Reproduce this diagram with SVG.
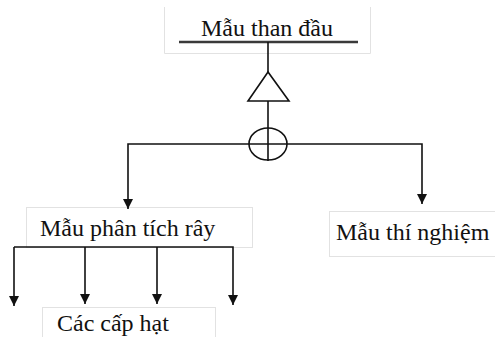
<svg xmlns="http://www.w3.org/2000/svg" width="495" height="337" viewBox="0 0 495 337">
  <style>
    .frame { fill: #ffffff; stroke: #e2e2e2; stroke-width: 1; }
    .label { font-family: "Liberation Serif", "Times New Roman", serif; font-size: 24px; fill: #111111; }
    .wire { fill: none; stroke: #111111; stroke-width: 1.6; }
    .bar { fill: none; stroke: #3a3a3a; stroke-width: 2.5; }
  </style>
  <defs>
    <marker id="arrow" viewBox="0 0 10 10" refX="10" refY="5" markerWidth="10" markerHeight="10" markerUnits="userSpaceOnUse" orient="auto">
      <path d="M0,0 L10,5 L0,10 Z" fill="#111111"/>
    </marker>
  </defs>

  <rect width="495" height="337" fill="#ffffff"/>

  <!-- source sample -->
  <g id="node-source">
    <path class="frame" d="M164.5,7 V53.5 H370.5 V7"/>
    <text class="label" x="201" y="36">Mẫu than đầu</text>
    <line class="bar" x1="179" y1="42" x2="358" y2="42"/>
  </g>

  <!-- reduction (triangle) symbol -->
  <g id="node-reduce">
    <polygon points="268,72 248,101 289,101" fill="none" stroke="#111111" stroke-width="1.6"/>
  </g>

  <!-- splitting (crossed circle) symbol -->
  <g id="node-split">
    <ellipse cx="268" cy="144" rx="19" ry="16" fill="none" stroke="#111111" stroke-width="1.6"/>
    <line class="wire" x1="268" y1="128" x2="268" y2="161"/>
    <line class="wire" x1="249" y1="144" x2="287" y2="144"/>
  </g>

  <!-- sieve analysis sample -->
  <g id="node-sieve">
    <rect class="frame" x="26.5" y="207.5" width="226" height="40"/>
    <text class="label" x="40" y="236">Mẫu phân tích rây</text>
  </g>

  <!-- test sample -->
  <g id="node-test">
    <rect class="frame" x="329.5" y="211.5" width="170" height="45"/>
    <text class="label" x="336" y="240">Mẫu thí nghiệm</text>
  </g>

  <!-- particle size classes -->
  <g id="node-classes">
    <rect class="frame" x="42.5" y="307.5" width="173" height="40"/>
    <text class="label" x="57" y="331">Các cấp hạt</text>
  </g>

  <g id="connectors">
    <line class="wire" x1="268" y1="42" x2="268" y2="72"/>
    <line class="wire" x1="268" y1="101" x2="268" y2="128"/>
    <path class="wire" d="M249,144 H128 V209" marker-end="url(#arrow)"/>
    <path class="wire" d="M287,144 H422 V204" marker-end="url(#arrow)"/>
    <path class="wire" d="M14,247 H233 V305" marker-end="url(#arrow)"/>
    <line class="wire" x1="14" y1="247" x2="14" y2="306" marker-end="url(#arrow)"/>
    <line class="wire" x1="85" y1="247" x2="85" y2="304" marker-end="url(#arrow)"/>
    <line class="wire" x1="157" y1="247" x2="157" y2="304" marker-end="url(#arrow)"/>
  </g>
</svg>
